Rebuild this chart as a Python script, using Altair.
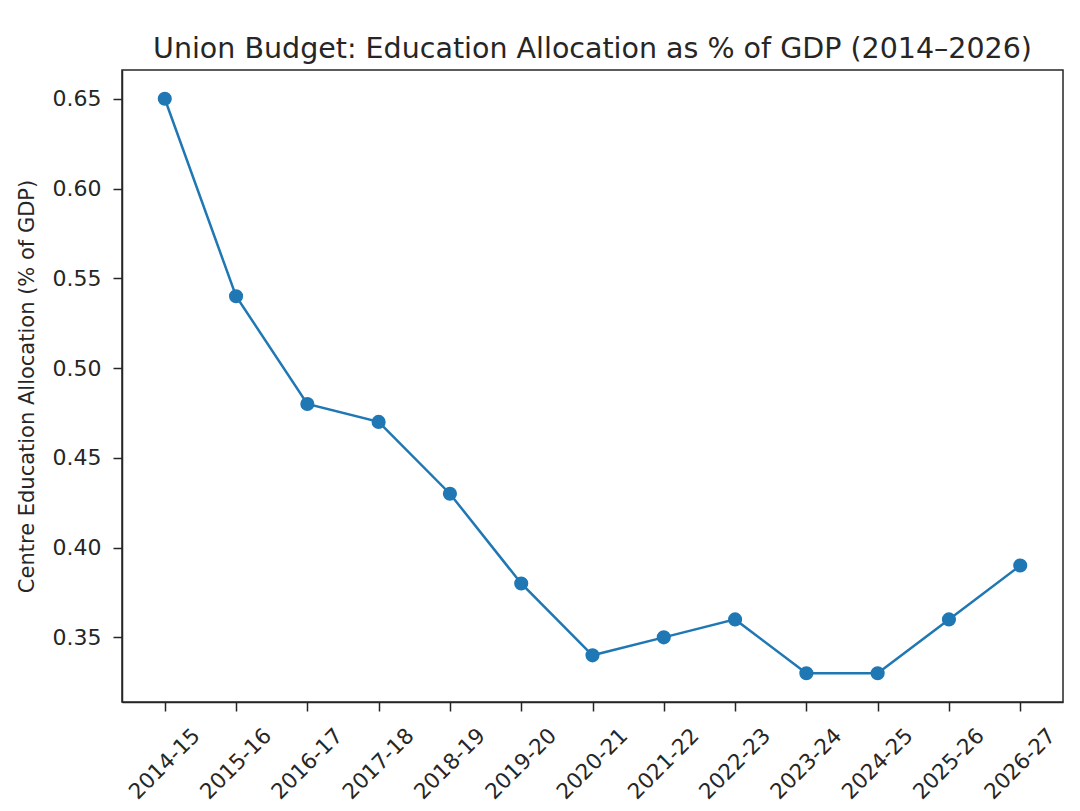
import altair as alt
import pandas as pd

years = ['2014-15', '2015-16', '2016-17', '2017-18', '2018-19', '2019-20', '2020-21',
         '2021-22', '2022-23', '2023-24', '2024-25', '2025-26', '2026-27']
allocation = [0.65, 0.54, 0.48, 0.47, 0.43, 0.38, 0.34, 0.35, 0.36, 0.33, 0.33, 0.36, 0.39]
y_ticks = [0.35, 0.40, 0.45, 0.50, 0.55, 0.60, 0.65]

df = pd.DataFrame({'year': years, 'allocation': allocation})

FONT = 'DejaVu Sans'
INK = '#262626'
BLUE = '#1f77b4'

x_enc = alt.X('year:O', sort=years, title=None,
              scale=alt.Scale(type='point', padding=0.6),
              axis=alt.Axis(labelAngle=-45, labelAlign='center', labelBaseline='middle',
                            labelPadding=53, tickSize=9, labelFontSize=21.5,
                            labelFont=FONT, labelColor=INK, tickColor=INK,
                            domainColor=INK, domainWidth=1.5, tickWidth=1.5))
y_enc = alt.Y('allocation:Q', title='Centre Education Allocation (% of GDP)',
              scale=alt.Scale(domain=[0.314, 0.666], nice=False, zero=False),
              axis=alt.Axis(values=y_ticks, format='.2f', tickSize=9, labelPadding=12,
                            labelFontSize=22, labelFont=FONT, labelColor=INK,
                            titleFont=FONT, titleFontSize=21, titleFontWeight='normal',
                            titleColor=INK, titlePadding=15, tickColor=INK,
                            domainColor=INK, domainWidth=1.5, tickWidth=1.5, grid=False))

base = alt.Chart(df).encode(x=x_enc, y=y_enc)

line = base.mark_line(color=BLUE, strokeWidth=2.5)
points = base.mark_circle(color=BLUE, size=200, opacity=1)

chart = alt.layer(line, points).properties(
    width=941,
    height=632,
    title=alt.Title('Union Budget: Education Allocation as % of GDP (2014–2026)',
                    font=FONT, fontSize=28.5, fontWeight='normal', color=INK,
                    anchor='middle', baseline='bottom', offset=-22),
    autosize=alt.AutoSizeParams(type='none'),
    padding={'left': 114, 'top': 62, 'right': 9, 'bottom': 115},
    background='white',
).configure_view(
    stroke=INK,
    strokeWidth=1.5,
)

chart.save('out.html', embed_options={'renderer': 'svg', 'actions': False})
